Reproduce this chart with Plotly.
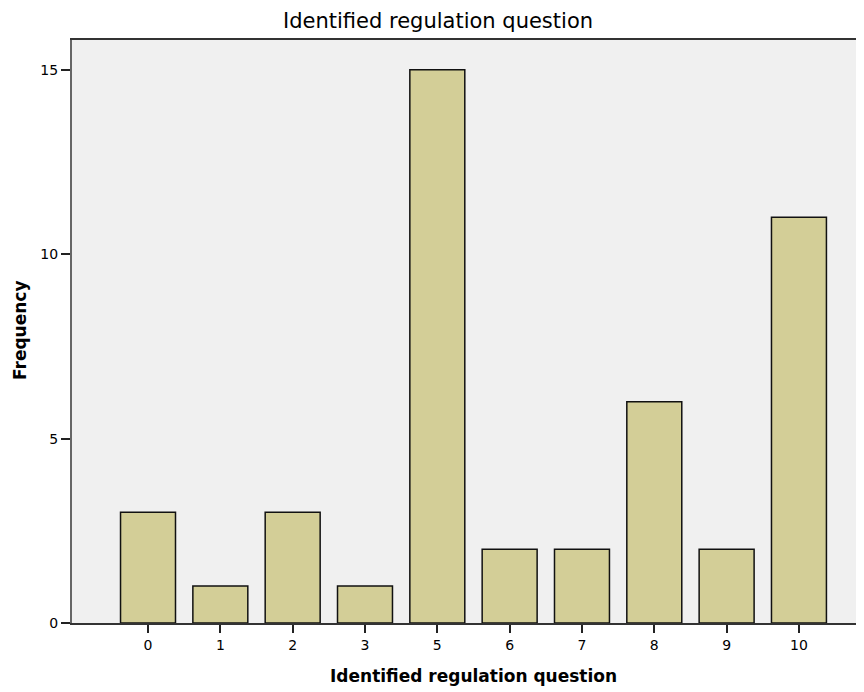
import plotly.graph_objects as go

categories = ["0", "1", "2", "3", "5", "6", "7", "8", "9", "10"]
frequency = [3, 1, 3, 1, 15, 2, 2, 6, 2, 11]
y_ticks = [0, 5, 10, 15]
title_text = "Identified regulation question"
x_title = "Identified regulation question"
y_title = "Frequency"

FONT = "DejaVu Sans, Verdana, sans-serif"

fig = go.Figure(go.Bar(
    x=categories, y=frequency,
    marker=dict(color="#D3CE97", line=dict(color="#111111", width=1.5)),
))

fig.update_layout(
    width=864, height=684,
    margin=dict(l=64, r=0, t=32, b=69),
    paper_bgcolor="white", plot_bgcolor="#F0F0F0",
    bargap=0.24, showlegend=False,
    font=dict(family=FONT, color="#000000"),
    annotations=[
        dict(text=title_text, xref="paper", yref="paper", x=0.457, y=1.0, yshift=19,
             xanchor="center", yanchor="middle", showarrow=False,
             font=dict(size=21, family=FONT)),
        dict(text="<b>" + x_title + "</b>", xref="paper", yref="paper", x=0.5025, y=0, yshift=-53,
             xanchor="center", yanchor="middle", showarrow=False,
             font=dict(size=17, family=FONT)),
        dict(text="<b>" + y_title + "</b>", xref="paper", yref="paper", x=0, xshift=-52, y=0.5026,
             xanchor="center", yanchor="middle", showarrow=False, textangle=-90,
             font=dict(size=17, family=FONT)),
    ],
)

fig.update_xaxes(
    type="category", range=[-1.051, 10.01],
    showline=True, linecolor="#333333", linewidth=2, mirror=True,
    ticks="outside", ticklen=8, tickcolor="#222222", tickwidth=2,
    showgrid=False, zeroline=False,
    tickfont=dict(size=14, family=FONT),
)
fig.update_yaxes(
    range=[0, 15.81], tickvals=y_ticks,
    showline=True, linecolor="#666666", linewidth=2,
    ticks="outside", ticklen=9, tickcolor="#222222", tickwidth=2,
    showgrid=False, zeroline=False,
    tickfont=dict(size=14, family=FONT),
)

fig.write_html("out.html")
